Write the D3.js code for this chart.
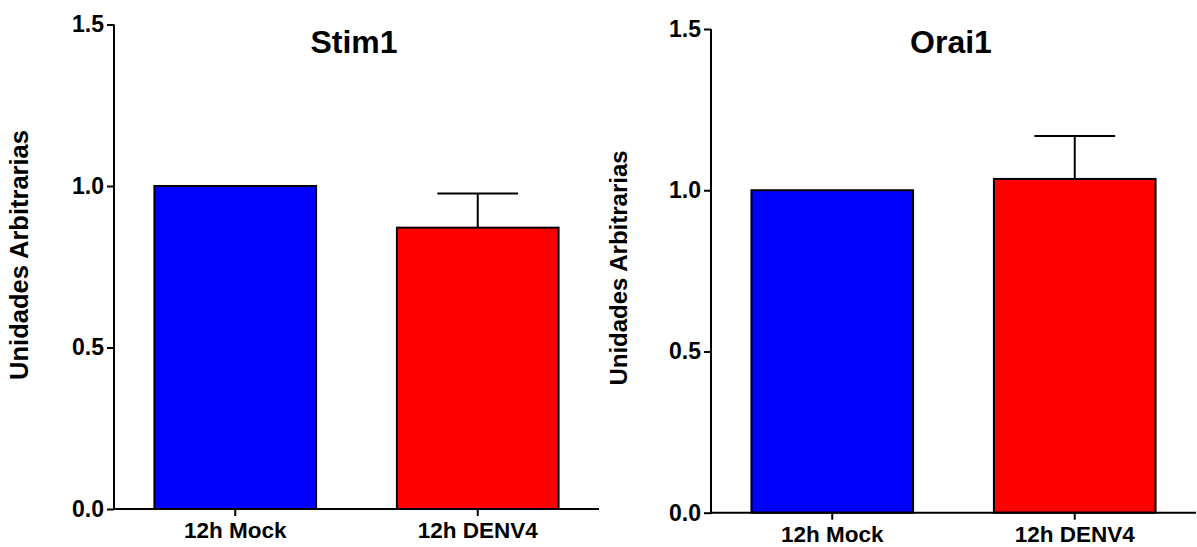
<!DOCTYPE html>
<html lang="pt">
<head>
<meta charset="utf-8">
<title>Stim1 / Orai1</title>
<script src="https://cdn.jsdelivr.net/npm/d3@7"></script>
<style>
  body { margin: 0; background: #fff; }
  svg text { font-family: "Liberation Sans", Arial, sans-serif; font-weight: bold; fill: #000; }
  .axis path, .axis line { stroke: #000; stroke-width: 2px; }
  .bar { stroke: #000; stroke-width: 2px; }
  .err { stroke: #000; stroke-width: 2px; fill: none; }
</style>
</head>
<body>
<div id="chart"></div>
<script>
// data
var categories = ["12h Mock", "12h DENV4"];
var stim1Means = [1.0, 0.871];
var stim1Errors = [0, 0.106];
var orai1Means = [1.0, 1.035];
var orai1Errors = [0, 0.133];
var yTicks = [0.0, 0.5, 1.0, 1.5];
var yLabel = "Unidades Arbitrarias";

var barColors = ["#0000ff", "#ff0000"];

var width = 1197, height = 547;

var svg = d3.select("#chart").append("svg")
    .attr("width", width)
    .attr("height", height);

// one panel per gene
var panels = [
  { title: "Stim1", means: stim1Means, errors: stim1Errors,
    left: 114, right: 599, top: 24.5, bottom: 509, titleX: 354, labelX: 19, labelY: 255, labelSize: 25.5 },
  { title: "Orai1", means: orai1Means, errors: orai1Errors,
    left: 711, right: 1196, top: 29, bottom: 512.7, titleX: 951, labelX: 618, labelY: 268, labelSize: 24 }
];

panels.forEach(function(p) {
  var g = svg.append("g");

  var x = d3.scaleBand()
      .domain(categories)
      .range([p.left, p.right])
      .paddingInner(1 / 3)
      .paddingOuter(1 / 6);

  var y = d3.scaleLinear()
      .domain([0, 1.5])
      .range([p.bottom, p.top]);

  var rows = categories.map(function(c, i) {
    return { cat: c, mean: p.means[i], err: p.errors[i], color: barColors[i] };
  });

  // error bars (upper only) drawn under the bars
  var errs = g.selectAll(".errbar")
      .data(rows.filter(function(d) { return d.err > 0; }))
    .enter().append("g")
      .attr("class", "errbar");

  errs.append("line")
      .attr("class", "err")
      .attr("x1", function(d) { return x(d.cat) + x.bandwidth() / 2; })
      .attr("x2", function(d) { return x(d.cat) + x.bandwidth() / 2; })
      .attr("y1", function(d) { return y(d.mean); })
      .attr("y2", function(d) { return y(d.mean + d.err); });

  errs.append("line")
      .attr("class", "err")
      .attr("x1", function(d) { return x(d.cat) + x.bandwidth() / 4; })
      .attr("x2", function(d) { return x(d.cat) + x.bandwidth() * 3 / 4; })
      .attr("y1", function(d) { return y(d.mean + d.err); })
      .attr("y2", function(d) { return y(d.mean + d.err); });

  g.selectAll(".bar")
      .data(rows)
    .enter().append("rect")
      .attr("class", "bar")
      .attr("x", function(d) { return x(d.cat); })
      .attr("width", x.bandwidth())
      .attr("y", function(d) { return y(d.mean); })
      .attr("height", function(d) { return y(0) - y(d.mean); })
      .attr("fill", function(d) { return d.color; });

  // axes
  var yAxis = g.append("g")
      .attr("class", "axis")
      .attr("transform", "translate(" + p.left + ",0)")
      .call(d3.axisLeft(y).tickValues(yTicks).tickFormat(d3.format(".1f")).tickSizeOuter(0).tickSize(7).tickPadding(3));
  yAxis.selectAll("text").style("font-size", "23px");

  var xAxis = g.append("g")
      .attr("class", "axis")
      .attr("transform", "translate(0," + p.bottom + ")")
      .call(d3.axisBottom(x).tickSizeOuter(0).tickSize(7).tickPadding(6));
  xAxis.selectAll("text").style("font-size", "22.5px");
  g.selectAll(".axis .domain").attr("d", null);

  // draw axis lines explicitly so they meet at the corner
  g.append("line").attr("class", "err")
      .attr("x1", p.left).attr("x2", p.left)
      .attr("y1", y(1.5)).attr("y2", y(0) + 1);
  g.append("line").attr("class", "err")
      .attr("x1", p.left - 1).attr("x2", p.right)
      .attr("y1", y(0)).attr("y2", y(0));

  g.append("text")
      .attr("x", p.titleX)
      .attr("y", 53)
      .attr("text-anchor", "middle")
      .style("font-size", "32px")
      .text(p.title);

  g.append("text")
      .attr("transform", "translate(" + (p.labelX + p.labelSize * 0.36) + "," + p.labelY + ") rotate(-90)")
      .attr("text-anchor", "middle")
      .style("font-size", p.labelSize + "px")
      .text(yLabel);
});
</script>
</body>
</html>
